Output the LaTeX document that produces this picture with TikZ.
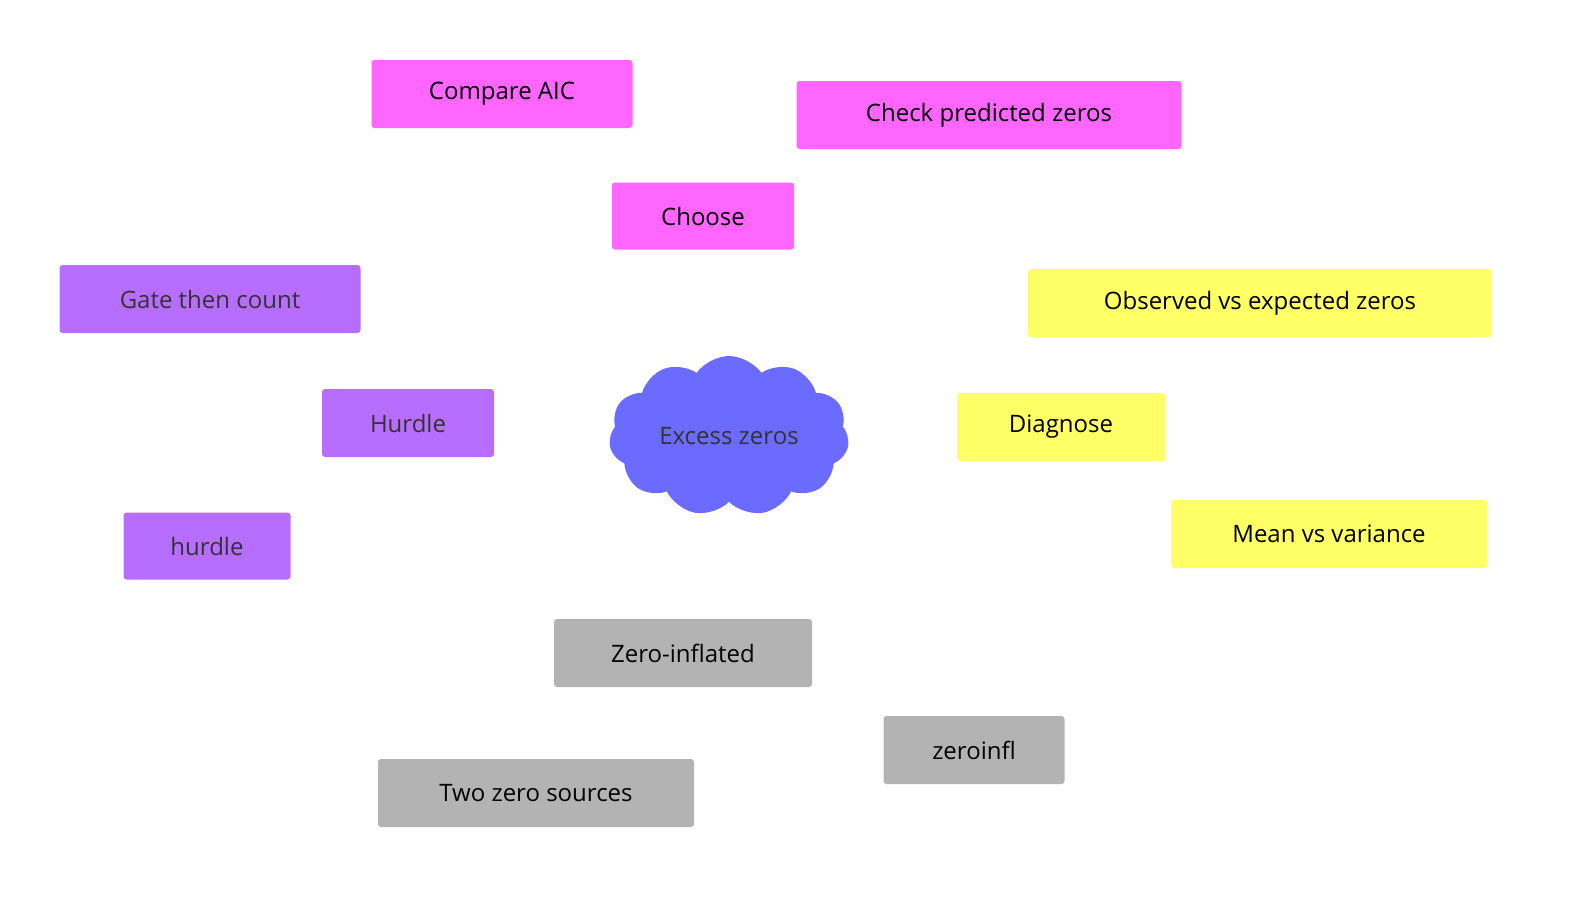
\documentclass[tikz,border=0pt]{standalone}
\usepackage{fontspec}
\setmainfont{Open Sans}
\usetikzlibrary{shapes.symbols}
\definecolor{pk}{HTML}{FF66FF}
\definecolor{pu}{HTML}{B76EFF}
\definecolor{ye}{HTML}{FFFF66}
\definecolor{gr}{HTML}{B3B3B3}
\definecolor{cl}{HTML}{6B6BFF}
\definecolor{gn}{HTML}{128C12}
\definecolor{gn2}{HTML}{4A9A0E}
\definecolor{bl}{HTML}{0A0A9A}
\definecolor{dg}{HTML}{4D4D4D}
\definecolor{tx}{HTML}{333333}
\begin{document}
\begin{tikzpicture}[x=1pt,y=-1pt,
 box/.style={rectangle,rounded corners=3pt,inner sep=0pt,font=\fontsize{24}{28}\selectfont,text=black},
 ul/.style={line width=4pt},
 e1/.style={line width=14pt},
 e2/.style={line width=8pt}]
\useasboundingbox (0,0) rectangle (1578,900);
\node[box,fill=pk,minimum width=261pt,minimum height=68pt] (aic) at (502,94) {Compare AIC};
\node[box,fill=pk,minimum width=385pt,minimum height=68pt] (chk) at (989,115) {Check predicted zeros};
\node[box,fill=pk,minimum width=182pt,minimum height=67pt] (cho) at (703,216) {Choose};
\node[box,fill=pu,text=tx,minimum width=301pt,minimum height=68pt] (gate) at (210,299) {Gate then count};
\node[box,fill=pu,text=tx,minimum width=172pt,minimum height=68pt] (hur) at (408,423) {Hurdle};
\node[box,fill=pu,text=tx,minimum width=167pt,minimum height=67pt] (hl) at (207,546) {hurdle};
\node[box,fill=ye,minimum width=464pt,minimum height=68pt] (obs) at (1260,303) {Observed vs expected zeros};
\node[box,fill=ye,minimum width=208pt,minimum height=68pt] (dia) at (1061,427) {Diagnose};
\node[box,fill=ye,minimum width=316pt,minimum height=68pt] (mv) at (1329,534) {Mean vs variance};
\node[box,fill=gr,minimum width=258pt,minimum height=68pt] (zi) at (683,653) {Zero-inflated};
\node[box,fill=gr,minimum width=181pt,minimum height=68pt] (zl) at (974,750) {zeroinfl};
\node[box,fill=gr,minimum width=316pt,minimum height=68pt] (two) at (536,793) {Two zero sources};
\node[cloud,cloud puffs=11,cloud puff arc=110,aspect=1.6,fill=cl,minimum width=240pt,minimum height=160pt,inner sep=0pt,font=\fontsize{24}{28}\selectfont,text=tx] (c) at (729,436) {Excess zeros};
\begin{scope}[on background layer/.style={}]
\end{scope}
\begin{pgfinterruptboundingbox}\end{pgfinterruptboundingbox}
% edges drawn then nodes redrawn on top
\begin{scope}[overlay]
\end{scope}
\end{tikzpicture}
\end{document}
